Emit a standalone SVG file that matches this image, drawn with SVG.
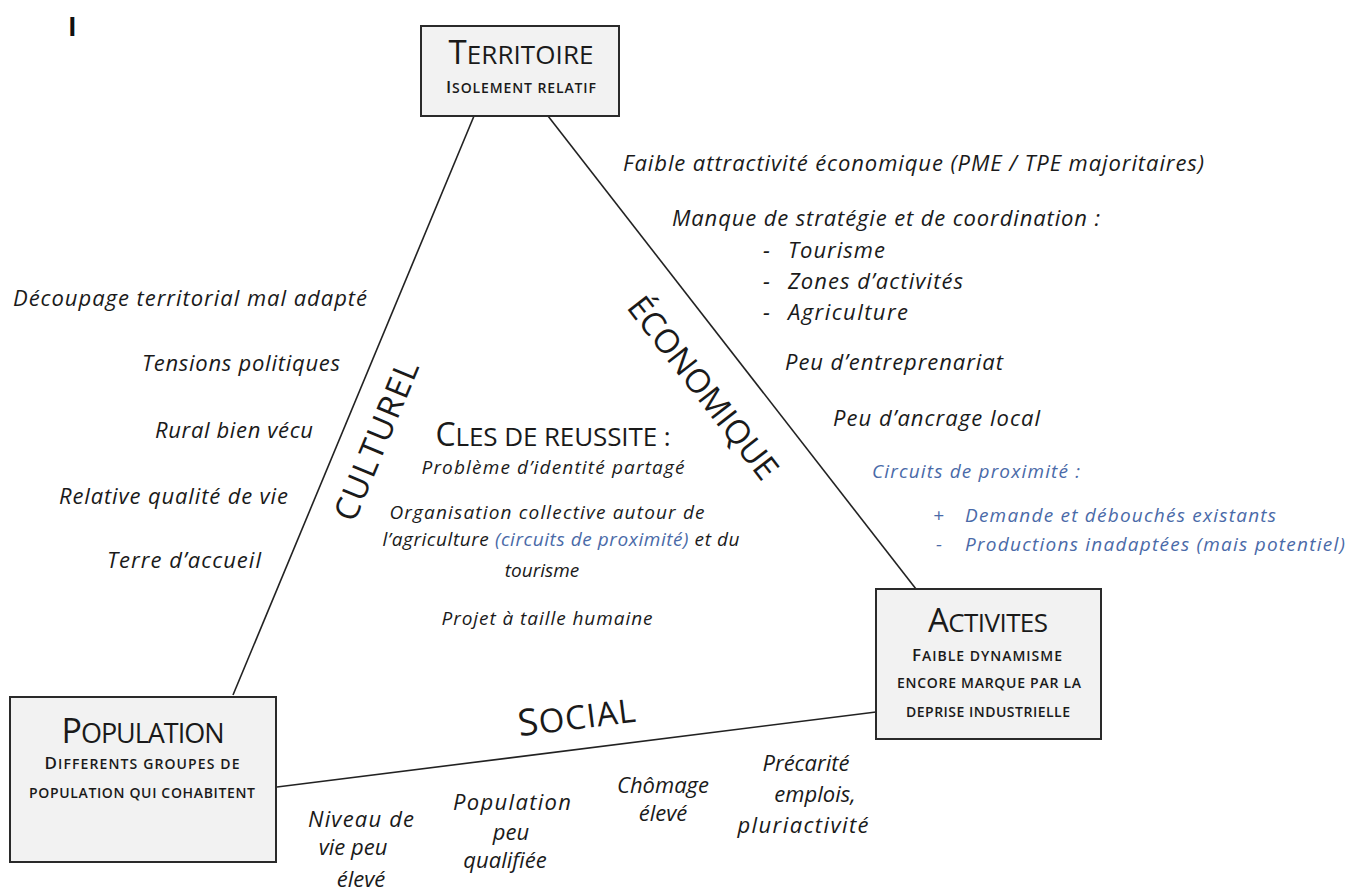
<svg xmlns="http://www.w3.org/2000/svg" width="1363" height="891" viewBox="0 0 1363 891">
<style>
.box{fill:#f2f2f2;stroke:#2a2a2a;stroke-width:2}
.ln{stroke:#222;stroke-width:1.6;fill:none}
.it{font-family:"Open Sans","Noto Sans",sans-serif;font-style:italic;font-weight:500;font-size:22px;fill:#1a1a1a}
.ct{font-family:"Open Sans","Noto Sans",sans-serif;font-style:italic;font-weight:500;font-size:19px;fill:#1a1a1a;text-anchor:middle}
.bl{font-family:"Open Sans","Noto Sans",sans-serif;font-style:italic;font-size:19px;fill:#4a6aa8}
.hd{font-family:"Open Sans","Noto Sans",sans-serif;fill:#1a1a1a;text-anchor:middle}
.sc{font-family:"Open Sans","Noto Sans",sans-serif;fill:#1a1a1a;text-anchor:middle;font-size:14px;font-weight:600}
.ax{font-family:"Open Sans","Noto Sans",sans-serif;fill:#1a1a1a;font-size:33px;text-anchor:middle}
.c{text-anchor:middle}
</style>
<rect width="1363" height="891" fill="#fff"/>
<text x="68" y="36" font-family="Open Sans, sans-serif" font-size="26" font-weight="700" fill="#111">I</text>

<g id="connectors">
<line class="ln" x1="474" y1="116" x2="233" y2="695"/>
<line class="ln" x1="548" y1="116" x2="916" y2="589"/>
<line class="ln" x1="277" y1="787" x2="876" y2="712"/>
</g>

<g id="territoire">
<rect class="box" x="421" y="26" width="198" height="90"/>
<text class="hd" x="521" y="64" textLength="145"><tspan font-size="33">T</tspan><tspan font-size="26">ERRITOIRE</tspan></text>
<text class="sc" x="521" y="93" textLength="150"><tspan font-size="17">I</tspan>SOLEMENT RELATIF</text>
</g>

<g id="activites">
<rect class="box" x="876" y="589" width="225" height="150"/>
<text class="hd" x="988" y="632" textLength="120"><tspan font-size="33">A</tspan><tspan font-size="26">CTIVITES</tspan></text>
<text class="sc" x="987" y="661" textLength="150"><tspan font-size="17">F</tspan>AIBLE DYNAMISME</text>
<text class="sc" x="989" y="688" textLength="184">ENCORE MARQUE PAR LA</text>
<text class="sc" x="988" y="717" textLength="164">DEPRISE INDUSTRIELLE</text>
</g>

<g id="population">
<rect class="box" x="10" y="697" width="266" height="165"/>
<text class="hd" x="143" y="743" textLength="163"><tspan font-size="34">P</tspan><tspan font-size="27">OPULATION</tspan></text>
<text class="sc" x="142" y="769" textLength="195"><tspan font-size="17">D</tspan>IFFERENTS GROUPES DE</text>
<text class="sc" x="142" y="798" textLength="226">POPULATION QUI COHABITENT</text>
</g>

<g id="axes">
<text class="ax" transform="translate(387,445) rotate(-67.4)" textLength="170">CULTUREL</text>
<text class="ax" transform="translate(694,395) rotate(52.1)" textLength="222">ÉCONOMIQUE</text>
<text class="ax" transform="translate(578,729) rotate(-7.1)" textLength="118"><tspan font-size="37">S</tspan>OCIAL</text>
</g>

<g id="economique-notes">
<text class="it" x="623" y="171" textLength="581">Faible attractivité économique (PME / TPE majoritaires)</text>
<text class="it" x="672" y="226" textLength="428">Manque de stratégie et de coordination :</text>
<text class="it" x="763" y="258">-</text><text class="it" x="788" y="258" textLength="97">Tourisme</text>
<text class="it" x="763" y="289">-</text><text class="it" x="788" y="289" textLength="175">Zones d’activités</text>
<text class="it" x="763" y="320">-</text><text class="it" x="788" y="320" textLength="120">Agriculture</text>
<text class="it" x="785" y="370" textLength="218">Peu d’entreprenariat</text>
<text class="it" x="833" y="426" textLength="207">Peu d’ancrage local</text>
<text class="bl" x="872" y="478" textLength="208">Circuits de proximité :</text>
<text class="bl" x="933" y="522">+</text><text class="bl" x="965" y="522" textLength="311">Demande et débouchés existants</text>
<text class="bl" x="936" y="551">-</text><text class="bl" x="965" y="551" textLength="380">Productions inadaptées (mais potentiel)</text>
</g>

<g id="culturel-notes">
<text class="it" x="13" y="306" textLength="354">Découpage territorial mal adapté</text>
<text class="it" x="142" y="371" textLength="198">Tensions politiques</text>
<text class="it" x="155" y="438" textLength="158">Rural bien vécu</text>
<text class="it" x="59" y="504" textLength="229">Relative qualité de vie</text>
<text class="it" x="107" y="568" textLength="154">Terre d’accueil</text>
</g>

<g id="cles">
<text class="hd" x="553" y="446" textLength="235"><tspan font-size="32">C</tspan><tspan font-size="26">LES DE REUSSITE :</tspan></text>
<text class="ct" x="553" y="474" textLength="263">Problème d’identité partagé</text>
<text class="ct" x="547" y="519" textLength="315">Organisation collective autour de</text>
<text class="ct" x="561" y="546" textLength="357">l’agriculture <tspan fill="#4a6aa8">(circuits de proximité)</tspan> et du</text>
<text class="ct" x="542" y="577">tourisme</text>
<text class="ct" x="547" y="625" textLength="211">Projet à taille humaine</text>
</g>

<g id="social-notes">
<text class="it c" x="361" y="827" textLength="106">Niveau de</text>
<text class="it c" x="353" y="855">vie peu</text>
<text class="it c" x="361" y="887">élevé</text>
<text class="it c" x="512" y="810" textLength="118">Population</text>
<text class="it c" x="511" y="840">peu</text>
<text class="it c" x="505" y="868">qualifiée</text>
<text class="it c" x="663" y="793">Chômage</text>
<text class="it c" x="663" y="821">élevé</text>
<text class="it c" x="806" y="771">Précarité</text>
<text class="it c" x="815" y="802">emplois,</text>
<text class="it c" x="803" y="833" textLength="131">pluriactivité</text>
</g>
</svg>
